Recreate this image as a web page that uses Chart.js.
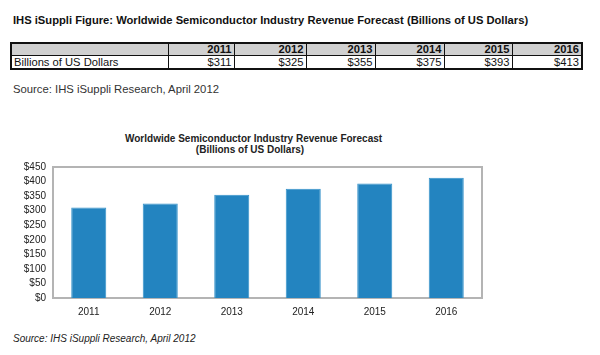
<!DOCTYPE html>
<html>
<head>
<meta charset="utf-8">
<script src="https://cdn.jsdelivr.net/npm/chart.js@4"></script>
<style>
  html, body { margin:0; padding:0; background:#fff; }
  body { width:600px; height:355px; position:relative; overflow:hidden; font-family:"Liberation Sans", Arial, sans-serif; color:#111; }
  .abs { position:absolute; white-space:nowrap; }
  #mainTitle { left:13px; top:13px; font-size:11.2px; font-weight:bold; line-height:14px; }
  #tbl { position:absolute; left:10px; top:42px; border-collapse:collapse; border:2px solid #111; font-size:11.2px; table-layout:fixed; }
  #tbl td { border:1px solid #111; padding:0 2px; line-height:11px; height:11px; }
  #tbl tr.hdr td { background:#d0d0d0; font-weight:bold; text-align:right; }
  #tbl tr.val td { text-align:right; height:12px; line-height:12px; }
  #tbl tr.val td.lab { text-align:left; }
  #src1 { left:13px; top:82px; font-size:11.3px; color:#333; line-height:14px; }
  #ctitle { left:125px; top:133px; width:250px; text-align:center; font-size:10px; font-weight:bold; line-height:11px; color:#222; }
  #wrap { position:absolute; left:0; top:125px; width:600px; height:200px; }
  #src2 { left:13px; top:332px; font-size:10px; font-style:italic; color:#222; line-height:13px; }
</style>
</head>
<body>
<div id="mainTitle" class="abs">IHS iSuppli Figure: Worldwide Semiconductor Industry Revenue Forecast (Billions of US Dollars)</div>
<table id="tbl"></table>
<div id="src1" class="abs">Source: IHS iSuppli Research, April 2012</div>
<div id="ctitle" class="abs">Worldwide Semiconductor Industry Revenue Forecast<br>(Billions of US Dollars)</div>
<div id="wrap"><canvas id="c"></canvas></div>
<div id="src2" class="abs">Source: IHS iSuppli Research, April 2012</div>
<script>
const years = ['2011', '2012', '2013', '2014', '2015', '2016'];
const revenue = [311, 325, 355, 375, 393, 413];
const rowLabel = 'Billions of US Dollars';
const yTicks = [0, 50, 100, 150, 200, 250, 300, 350, 400, 450];

// table layout (column widths in px)
const colWidths = [157, 66, 72, 69, 69, 68, 70];

const tbl = document.getElementById('tbl');
const cg = document.createElement('colgroup');
colWidths.forEach(w => { const c = document.createElement('col'); c.style.width = w + 'px'; cg.appendChild(c); });
tbl.appendChild(cg);
tbl.style.width = colWidths.reduce((a, b) => a + b, 0) + 'px';
const h = document.createElement('tr'); h.className = 'hdr';
h.appendChild(document.createElement('td'));
years.forEach(y => { const td = document.createElement('td'); td.textContent = y; h.appendChild(td); });
tbl.appendChild(h);
const r = document.createElement('tr'); r.className = 'val';
const l = document.createElement('td'); l.className = 'lab'; l.textContent = rowLabel; r.appendChild(l);
revenue.forEach(v => { const td = document.createElement('td'); td.textContent = '$' + v; r.appendChild(td); });
tbl.appendChild(r);

const frame = {
  id: 'frame',
  beforeDatasetsDraw(chart) {
    const a = chart.chartArea, ctx = chart.ctx;
    ctx.save();
    ctx.strokeStyle = '#b4b4b4';
    ctx.lineWidth = 2;
    ctx.strokeRect(a.left, a.top, a.right - a.left, a.bottom - a.top);
    ctx.restore();
  }
};

new Chart(document.getElementById('c'), {
  type: 'bar',
  data: {
    labels: years,
    datasets: [{
      data: revenue,
      backgroundColor: '#2384c0',
      borderColor: '#3592ca',
      borderWidth: 1,
      categoryPercentage: 1,
      barPercentage: 0.49
    }]
  },
  options: {
    responsive: true,
    maintainAspectRatio: false,
    animation: false,
    layout: { padding: { top: 42, right: 118, left: 0, bottom: 0 } },
    plugins: { legend: { display: false }, tooltip: { enabled: false }, title: { display: false } },
    scales: {
      x: {
        grid: { display: false, drawTicks: false },
        border: { display: false },
        ticks: { padding: 8, color: '#222', font: { family: 'Liberation Sans', size: 10 } },
        afterFit(s) { s.height = 27; }
      },
      y: {
        min: 0, max: 450,
        afterBuildTicks(s) { s.ticks = yTicks.map(v => ({ value: v })); },
        grid: { display: false, drawTicks: false },
        border: { display: false },
        ticks: { autoSkip: false, padding: 7, color: '#222', font: { family: 'Liberation Sans', size: 10 }, callback: v => '$' + v },
        afterFit(s) { s.width = 53; }
      }
    }
  },
  plugins: [frame]
});
</script>
</body>
</html>
